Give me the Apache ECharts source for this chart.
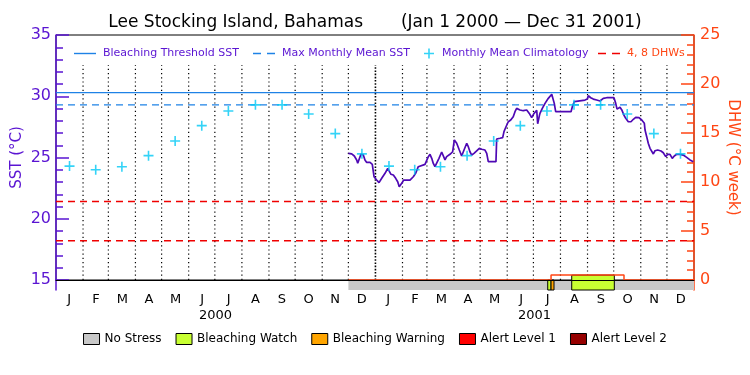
<!DOCTYPE html>
<html><head><meta charset="utf-8">
<script src="https://cdn.jsdelivr.net/npm/echarts@6/dist/echarts.min.js"></script>
<style>html,body{margin:0;padding:0;background:#fff}#chart{width:750px;height:375px}</style>
</head><body><div id="chart"></div>
<script>
// ---------- data ----------
const titleText = 'Lee Stocking Island, Bahamas       (Jan 1 2000 \u2014 Dec 31 2001)';
const monthLabels = ['J','F','M','A','M','J','J','A','S','O','N','D','J','F','M','A','M','J','J','A','S','O','N','D'];
const yearLabels = ['2000','2001'];
// day offsets (from Jan 1 2000) of each month start, Jan 2000 .. Jan 2002
const monthStarts = [0,31,60,91,121,152,182,213,244,274,305,335,366,397,425,456,486,517,547,578,609,639,670,700,731];
const yearBoundary = 366;
const climatology = [24.3,24.0,24.25,25.15,26.35,27.6,28.8,29.3,29.3,28.55,26.95,25.3];
const bleachingThreshold = 30.3;
const maxMonthlyMean = 29.3;
const dhwLevels = [4, 8];
const sstDays = [335.0,338.8,341.8,344.5,345.7,349.5,352.1,354.0,356.0,359.8,362.4,363.6,364.4,367.4,370.1,373.2,377.0,380.1,381.5,383.8,386.5,389.2,391.5,393.3,394.5,396.1,398.4,405.6,409.4,412.1,415.1,417.1,422.8,424.7,426.6,428.5,430.5,432.3,434.2,436.2,438.8,441.9,443.7,445.7,447.6,451.4,454.5,456.4,459.1,462.1,464.8,467.5,470.6,472.4,474.3,476.3,478.9,482.0,485.0,487.8,491.5,493.5,495.3,504.1,504.9,508.7,511.8,513.3,515.6,518.2,521.0,523.9,525.9,527.8,531.6,535.4,539.3,542.3,545.0,547.7,550.8,551.9,553.8,554.5,557.2,560.3,564.1,568.0,569.8,570.9,572.5,579.4,590.1,591.6,593.9,595.5,606.1,608.8,609.9,612.7,615.6,619.5,623.3,625.2,627.1,629.0,631.0,639.3,641.3,642.8,644.3,646.2,648.5,650.8,652.8,655.7,658.8,661.5,664.2,668.0,671.1,674.1,674.9,676.8,678.6,680.6,682.5,684.4,686.3,689.4,693.2,695.8,698.6,700.9,703.5,706.1,708.4,711.2,715.0,718.7,722.6,726.4,730.2];
const sstValues = [25.34,25.29,25.12,24.80,24.53,25.29,25.20,24.80,24.60,24.60,24.44,24.39,23.43,23.16,22.95,23.30,23.71,24.12,24.03,23.63,23.57,23.30,23.02,22.62,22.49,22.89,23.16,23.16,23.43,23.71,24.25,24.41,24.44,24.52,25.07,25.26,24.93,24.52,24.25,24.39,24.93,25.45,25.30,24.80,25.07,25.26,25.47,26.43,26.16,25.61,25.12,25.61,26.16,25.88,25.47,25.20,25.34,25.55,25.75,25.67,25.61,25.34,24.66,24.66,26.51,26.57,26.62,27.11,27.51,27.92,28.06,28.33,28.74,29.01,28.88,28.82,28.88,28.60,28.25,28.60,28.85,27.75,28.40,28.60,29.01,29.42,29.83,30.16,30.24,29.42,28.74,28.74,28.74,29.15,29.56,29.69,29.69,29.77,30.04,29.88,29.77,29.69,29.61,29.69,29.83,29.69,29.88,29.88,29.42,28.95,29.05,29.10,28.85,28.45,28.20,27.92,27.92,28.12,28.28,28.25,28.06,27.79,27.24,26.70,26.16,25.75,25.61,25.29,25.55,25.61,25.53,25.39,25.07,25.26,25.26,24.93,25.12,25.26,25.26,25.20,25.01,24.80,24.66];
const dhwDays = [335, 567.2, 650.8, 731];
const dhwValues = [0, 0.5, 0, 0];
// status segments: [startDay, endDay, DHW height reached]
const noStress = [[335, 731, 0]];
const bleachingWatch = [[563.4, 567.2, 0], [590.9, 639.7, 0.5]];
const bleachingWarning = [[567.2, 570.6, 0]];
const alertLevel1 = [];
const alertLevel2 = [];

// ---------- style ----------
const FONT = 'DejaVu Sans';
const PURPLE = '#5a14d2';
const SSTLINE = '#4e08b4';
const ORANGE = '#ff4614';
const BLUE = '#1e82e6';
const CYAN = '#00c8f5';
const RED = '#f00000';
const STATUS_H = 10;
const ICON_SOLID = 'path://M0,0H22V1.4H0Z';
const ICON_DASHED = 'path://M0,0H8V1.4H0ZM14,0H22V1.4H14Z';

const chart = echarts.init(document.getElementById('chart'), null, {renderer: 'canvas'});

const climData = [];
for (let i = 0; i < 24; i++) {
  climData.push([(monthStarts[i] + monthStarts[i + 1]) / 2, climatology[i % 12]]);
}
const sstData = sstDays.map((d, i) => [d, sstValues[i]]);
const dhwData = dhwDays.map((d, i) => [d, dhwValues[i]]);
const xMin = monthStarts[0], xMax = monthStarts[monthStarts.length - 1];
const gridLineData = monthStarts.slice(1, monthStarts.length - 1).map(d => [d, 15]);

function statusSeries(name, color, data, outlined) {
  return {
    name, type: 'custom', xAxisIndex: 0, yAxisIndex: 1, clip: false, z: 2,
    itemStyle: {color, borderColor: '#000', borderWidth: 1},
    data,
    renderItem(params, api) {
      const p0 = api.coord([api.value(0), 0]);
      const p1 = api.coord([api.value(1), api.value(2)]);
      const bottom = p0[1] + STATUS_H;
      return {
        type: 'rect',
        shape: {x: p0[0], y: p1[1], width: p1[0] - p0[0], height: bottom - p1[1]},
        style: {fill: color, stroke: outlined ? '#000' : null, lineWidth: 1}
      };
    }
  };
}

const topLegendBase = {
  top: 43, itemWidth: 22, itemHeight: 10, itemGap: 10, selectedMode: false,
  textStyle: {fontFamily: FONT, fontSize: 11, color: PURPLE, padding: [0, 0, 0, 2]}
};

const option = {
  animation: false,
  backgroundColor: '#fff',
  textStyle: {fontFamily: FONT},
  title: {
    text: titleText, left: 'center', top: 9,
    textStyle: {fontFamily: FONT, fontSize: 17, fontWeight: 'normal', color: '#000'}
  },
  legend: [
    Object.assign({}, topLegendBase, {left: 69, data: [{name: 'Bleaching Threshold SST', icon: ICON_SOLID}]}),
    Object.assign({}, topLegendBase, {left: 248, data: [{name: 'Max Monthly Mean SST', icon: ICON_DASHED}]}),
    Object.assign({}, topLegendBase, {left: 419, itemWidth: 12, data: ['Monthly Mean Climatology']}),
    Object.assign({}, topLegendBase, {left: 593, data: [{name: '4, 8 DHWs', icon: ICON_DASHED}],
      textStyle: {fontFamily: FONT, fontSize: 11, color: ORANGE, padding: [0, 0, 0, 2]}}),
    {
      left: 'center', top: 328, itemWidth: 16, itemHeight: 11, itemGap: 14, selectedMode: false, icon: 'rect',
      itemStyle: {borderColor: '#000', borderWidth: 1},
      textStyle: {fontFamily: FONT, fontSize: 12, color: '#000'},
      data: ['No Stress', 'Bleaching Watch', 'Bleaching Warning', 'Alert Level 1', 'Alert Level 2']
    }
  ],
  grid: [
    {left: 56, right: 56, top: 35, height: 245, show: true, borderColor: '#000', borderWidth: 1,
      backgroundColor: 'transparent', containLabel: false, outerBoundsMode: 'none'},
    {left: 56, right: 56, top: 280, height: STATUS_H, containLabel: false, outerBoundsMode: 'none'}
  ],
  xAxis: [
    {gridIndex: 0, type: 'value', min: xMin, max: xMax, z: 5,
      axisLine: {show: true, onZero: false, lineStyle: {color: '#000', width: 1}},
      axisTick: {show: false}, axisLabel: {show: false}, splitLine: {show: false}},
    {gridIndex: 0, type: 'category', data: monthLabels, position: 'bottom', boundaryGap: true,
      axisLine: {show: false, onZero: false}, axisTick: {show: false}, splitLine: {show: false},
      axisLabel: {interval: 0, margin: 13, fontSize: 13, color: '#000', fontFamily: FONT}},
    {gridIndex: 0, type: 'category', data: yearLabels, position: 'bottom', boundaryGap: true,
      axisLine: {show: false, onZero: false}, axisTick: {show: false}, splitLine: {show: false},
      axisLabel: {interval: 0, margin: 29, fontSize: 13, color: '#000', fontFamily: FONT}},
    {gridIndex: 1, type: 'value', min: xMin, max: xMax, show: false}
  ],
  yAxis: [
    {gridIndex: 0, type: 'value', position: 'left', min: 15, max: 35, interval: 5,
      name: 'SST (\u00b0C)', nameLocation: 'middle', nameGap: 31, nameRotate: 90, nameMoveOverlap: false,
      nameTextStyle: {color: PURPLE, fontSize: 15, fontFamily: FONT},
      axisLine: {show: true, lineStyle: {color: PURPLE, width: 1.5}},
      axisTick: {show: true, inside: true, length: 13, lineStyle: {color: PURPLE, width: 1.5}},
      minorTick: {show: true, splitNumber: 5, length: 7, lineStyle: {color: PURPLE, width: 1.5}},
      axisLabel: {color: PURPLE, fontSize: 16, margin: 5, fontFamily: FONT},
      splitLine: {show: false}},
    {gridIndex: 0, type: 'value', position: 'right', min: 0, max: 25, interval: 5,
      name: 'DHW (\u00b0C week)', nameLocation: 'middle', nameGap: 31, nameRotate: -90, nameMoveOverlap: false,
      nameTextStyle: {color: ORANGE, fontSize: 15, fontFamily: FONT},
      axisLine: {show: true, lineStyle: {color: ORANGE, width: 1.5}},
      axisTick: {show: true, inside: true, length: 13, lineStyle: {color: ORANGE, width: 1.5}},
      minorTick: {show: true, splitNumber: 5, length: 7, lineStyle: {color: ORANGE, width: 1.5}},
      axisLabel: {color: ORANGE, fontSize: 16, margin: 6, fontFamily: FONT},
      splitLine: {show: false}},
    {gridIndex: 1, type: 'value', position: 'left', min: 0, max: 1,
      axisLine: {show: true, lineStyle: {color: PURPLE, width: 1.5}},
      axisTick: {show: false}, axisLabel: {show: false}, splitLine: {show: false}},
    {gridIndex: 1, type: 'value', position: 'right', min: 0, max: 1,
      axisLine: {show: true, lineStyle: {color: ORANGE, width: 1.5}},
      axisTick: {show: false}, axisLabel: {show: false}, splitLine: {show: false}}
  ],
  series: [
    {
      name: 'monthGrid', type: 'custom', xAxisIndex: 0, yAxisIndex: 0, z: 1, silent: true,
      data: gridLineData,
      renderItem(params, api) {
        const d = api.value(0);
        const p0 = api.coord([d, 15]);
        const p1 = api.coord([d, 32.55]);
        const isYear = d === yearBoundary;
        return {
          type: 'line',
          shape: {x1: p0[0], y1: p0[1], x2: p1[0], y2: p1[1]},
          style: {stroke: '#000', lineWidth: isYear ? 1.6 : 1.2, lineDash: isYear ? [1.6, 1.6] : [1.2, 3]}
        };
      }
    },
    {name: 'Bleaching Threshold SST', type: 'line', xAxisIndex: 0, yAxisIndex: 0, symbol: 'none', z: 3,
      data: [[xMin, bleachingThreshold], [xMax, bleachingThreshold]],
      lineStyle: {color: BLUE, width: 1.3}, itemStyle: {color: BLUE}},
    {name: 'Max Monthly Mean SST', type: 'line', xAxisIndex: 0, yAxisIndex: 0, symbol: 'none', z: 3,
      data: [[xMin, maxMonthlyMean], [xMax, maxMonthlyMean]],
      lineStyle: {color: BLUE, width: 1.3, type: [7, 5]}, itemStyle: {color: BLUE}},
    {name: '4, 8 DHWs', type: 'line', xAxisIndex: 0, yAxisIndex: 1, symbol: 'none', z: 3,
      data: [[xMin, dhwLevels[0]], [xMax, dhwLevels[0]]],
      lineStyle: {color: RED, width: 1.5, type: [7, 5]}, itemStyle: {color: RED}},
    {name: '4, 8 DHWs', type: 'line', xAxisIndex: 0, yAxisIndex: 1, symbol: 'none', z: 3,
      data: [[xMin, dhwLevels[1]], [xMax, dhwLevels[1]]],
      lineStyle: {color: RED, width: 1.5, type: [7, 5]}, itemStyle: {color: RED}},
    statusSeries('No Stress', '#c8c8c8', noStress, false),
    statusSeries('Bleaching Watch', '#c8ff32', bleachingWatch, true),
    statusSeries('Bleaching Warning', '#ffa500', bleachingWarning, true),
    statusSeries('Alert Level 1', '#ff0000', alertLevel1, true),
    statusSeries('Alert Level 2', '#960000', alertLevel2, true),
    {name: 'DHW', type: 'line', xAxisIndex: 0, yAxisIndex: 1, symbol: 'none', step: 'end', z: 3,
      data: dhwData, lineStyle: {color: ORANGE, width: 1.5}},
    {name: 'SST', type: 'line', xAxisIndex: 0, yAxisIndex: 0, symbol: 'none', z: 4,
      data: sstData, lineStyle: {color: SSTLINE, width: 1.7}},
    {name: 'Monthly Mean Climatology', type: 'scatter', xAxisIndex: 0, yAxisIndex: 0, z: 5,
      symbol: 'path://M4.2,0H5.8V10H4.2ZM0,4.2H10V5.8H0Z', symbolSize: 10,
      data: climData, itemStyle: {color: CYAN}}
  ]
};
chart.setOption(option);
</script>
</body></html>
